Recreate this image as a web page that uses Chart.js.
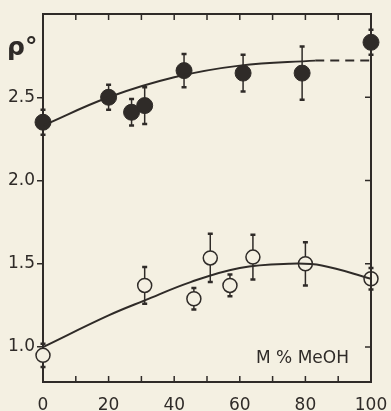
<!DOCTYPE html>
<html>
<head>
<meta charset="utf-8">
<script src="https://cdn.jsdelivr.net/npm/chart.js@4.4.1/dist/chart.umd.min.js"></script>
<style>
  html, body { margin: 0; padding: 0; background: #f4f0e2; }
  #wrap { width: 391px; height: 411px; }
</style>
</head>
<body>
<div id="wrap"><canvas id="grafico" width="391" height="411"></canvas></div>
<script>
// dados
const xLabels = [0, 20, 40, 60, 80, 100];
const xTickMarks = [10, 20, 30, 40, 50, 60, 70, 80, 90];
const yLabels = [1.0, 1.5, 2.0, 2.5];
const yRightMarks = [1.0, 1.5, 2.0, 2.5];

// pontos cheios (série superior)
const cheioX = [0, 20, 27, 31, 43, 61, 79, 100];
const cheioY = [2.35, 2.50, 2.41, 2.45, 2.66, 2.645, 2.645, 2.83];
const cheioErr = [0.075, 0.075, 0.08, 0.11, 0.10, 0.11, 0.16, 0.075];

// pontos abertos (série inferior)
const abertoX = [0, 31, 46, 51, 57, 64, 80, 100];
const abertoY = [0.95, 1.37, 1.29, 1.535, 1.37, 1.54, 1.50, 1.41];
const abertoErr = [0.07, 0.11, 0.065, 0.145, 0.065, 0.135, 0.13, 0.065];

// curvas ajustadas
const curvaSupX = [0, 20, 40, 60, 83];
const curvaSupY = [2.33, 2.50, 2.62, 2.69, 2.72];
const tracejadoX = [83, 100];
const tracejadoY = [2.72, 2.72];
const curvaInfX = [0, 20, 31, 45, 60, 75, 85, 100];
const curvaInfY = [1.0, 1.19, 1.28, 1.39, 1.475, 1.50, 1.49, 1.41];

const tinta = '#2f2b28';
const fundo = '#f4f0e2';
const fonte = 'DejaVu Sans';

function pares(xs, ys) {
  return xs.map((x, i) => ({ x: x, y: ys[i] }));
}

// barras de erro, quadro e marcas internas
const extras = {
  id: 'extras',
  beforeDatasetsDraw(chart) {
    const ctx = chart.ctx;
    const sx = chart.scales.x, sy = chart.scales.y;
    ctx.save();
    ctx.strokeStyle = tinta;
    ctx.lineWidth = 1.5;
    const series = [[cheioX, cheioY, cheioErr], [abertoX, abertoY, abertoErr]];
    series.forEach(([xs, ys, es]) => {
      xs.forEach((x, i) => {
        const px = sx.getPixelForValue(x);
        const top = sy.getPixelForValue(ys[i] + es[i]);
        const bot = sy.getPixelForValue(ys[i] - es[i]);
        ctx.beginPath();
        ctx.moveTo(px, top); ctx.lineTo(px, bot);
        ctx.stroke();
        ctx.lineWidth = 2.5;
        ctx.beginPath();
        ctx.moveTo(px - 2.5, top); ctx.lineTo(px + 2.5, top);
        ctx.moveTo(px - 2.5, bot); ctx.lineTo(px + 2.5, bot);
        ctx.stroke();
        ctx.lineWidth = 1.5;
      });
    });
    ctx.restore();
  },
  afterDraw(chart) {
    const ctx = chart.ctx;
    const a = chart.chartArea;
    const sx = chart.scales.x, sy = chart.scales.y;
    ctx.save();
    ctx.strokeStyle = tinta;
    ctx.lineWidth = 2;
    ctx.beginPath();
    ctx.moveTo(a.left, a.top); ctx.lineTo(a.right, a.top); ctx.lineTo(a.right, a.bottom);
    ctx.stroke();
    ctx.lineWidth = 1.5;
    ctx.beginPath();
    xTickMarks.forEach(v => {
      const px = sx.getPixelForValue(v);
      ctx.moveTo(px, a.bottom); ctx.lineTo(px, a.bottom - 6);
      ctx.moveTo(px, a.top); ctx.lineTo(px, a.top + 6);
    });
    yRightMarks.forEach(v => {
      const py = sy.getPixelForValue(v);
      ctx.moveTo(a.right, py); ctx.lineTo(a.right - 6, py);
    });
    ctx.stroke();

    ctx.fillStyle = tinta;
    ctx.textBaseline = 'middle';
    ctx.font = 'bold 25px ' + fonte;
    ctx.fillText('ρ°', 7, 48);
    ctx.font = '17px ' + fonte;
    ctx.fillText('M % MeOH', 256, 359);
    ctx.restore();
  }
};

new Chart(document.getElementById('grafico'), {
  type: 'scatter',
  data: {
    datasets: [
      {
        data: pares(curvaSupX, curvaSupY),
        showLine: true, tension: 0.4, pointRadius: 0,
        borderColor: tinta, borderWidth: 2
      },
      {
        data: pares(tracejadoX, tracejadoY),
        showLine: true, pointRadius: 0, borderDash: [9, 6],
        borderColor: tinta, borderWidth: 2
      },
      {
        data: pares(curvaInfX, curvaInfY),
        showLine: true, tension: 0.4, pointRadius: 0,
        borderColor: tinta, borderWidth: 2
      },
      {
        data: pares(cheioX, cheioY), clip: false,
        pointRadius: 8, backgroundColor: tinta, borderColor: tinta, borderWidth: 1
      },
      {
        data: pares(abertoX, abertoY), clip: false,
        pointRadius: 7, backgroundColor: fundo, borderColor: tinta, borderWidth: 1.5
      }
    ]
  },
  options: {
    responsive: false,
    animation: false,
    layout: { padding: { top: 14, right: 20, left: 0, bottom: 0 } },
    plugins: { legend: { display: false }, tooltip: { enabled: false } },
    scales: {
      x: {
        type: 'linear', min: 0, max: 100,
        grid: { display: false },
        border: { display: true, color: tinta, width: 2 },
        afterBuildTicks: s => { s.ticks = xLabels.map(v => ({ value: v })); },
        afterFit: s => { s.height = 29; s.paddingLeft = 0; s.paddingRight = 0; },
        ticks: { color: tinta, font: { family: fonte, size: 17 }, padding: 5, maxRotation: 0 }
      },
      y: {
        min: 0.79, max: 3.0,
        grid: { drawOnChartArea: false, drawTicks: true, tickLength: 6, color: tinta, lineWidth: 1.5 },
        border: { display: true, color: tinta, width: 2 },
        afterBuildTicks: s => { s.ticks = yLabels.map(v => ({ value: v })); },
        afterFit: s => { s.width = 43; s.paddingTop = 0; s.paddingBottom = 0; },
        ticks: {
          color: tinta, font: { family: fonte, size: 17 }, padding: 2,
          callback: v => v.toFixed(1)
        }
      }
    }
  },
  plugins: [extras]
});
</script>
</body>
</html>
